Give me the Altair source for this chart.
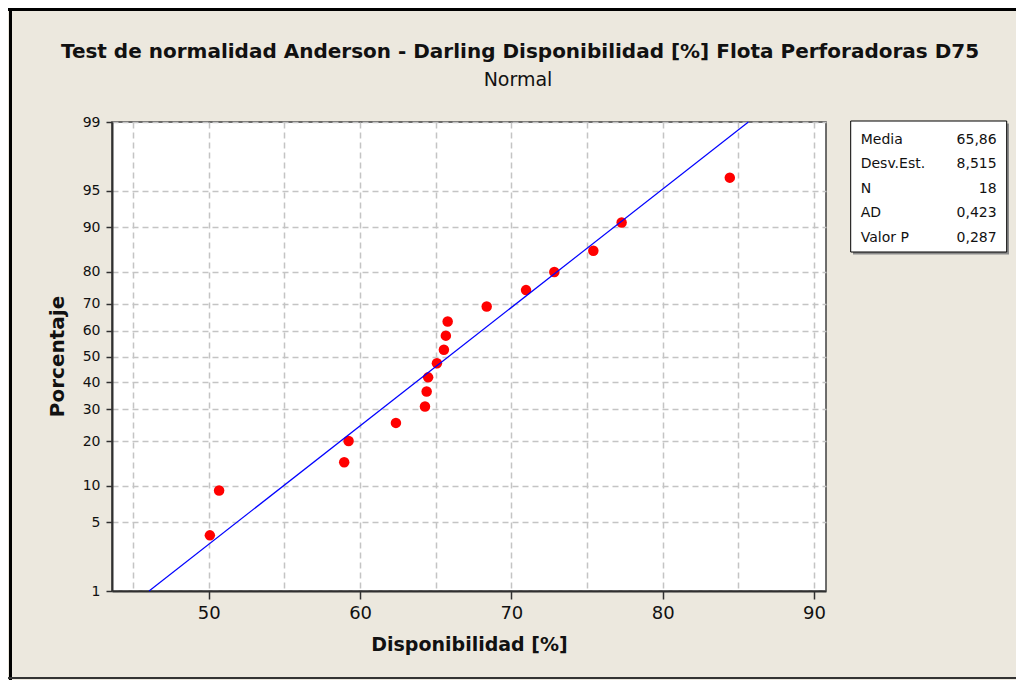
import altair as alt
import pandas as pd
from statistics import NormalDist

# ---- data ----
disponibilidad = [50.07, 50.68, 58.95, 59.24, 62.37, 64.29, 64.40, 64.50, 65.08,
                  65.54, 65.67, 65.79, 68.37, 70.97, 72.84, 75.42, 77.29, 84.44]
porcentaje = [3.8, 9.2, 14.7, 20.1, 25.5, 31.0, 36.4, 41.8, 47.3,
              52.7, 58.2, 63.6, 69.0, 74.5, 79.9, 85.3, 90.8, 96.2]
fit_x = [46.05, 85.67]
fit_pct = [1, 99]
pct_ticks = [1, 5, 10, 20, 30, 40, 50, 60, 70, 80, 90, 95, 99]
x_ticks = [45, 50, 55, 60, 65, 70, 75, 80, 85, 90]
stat_names = ["Media", "Desv.Est.", "N", "AD", "Valor P"]
stat_values = ["65,86", "8,515", "18", "0,423", "0,287"]
title_text = ["Test de normalidad Anderson - Darling Disponibilidad [%] Flota Perforadoras D75"]
subtitle_text = ["Normal"]

FONT = "DejaVu Sans"
BG = "#ECE8DE"

nd = NormalDist()
z_ticks = [nd.inv_cdf(p / 100) for p in pct_ticks]
z_dom = [z_ticks[0] - 1e-9, z_ticks[-1] + 1e-9]

pts = pd.DataFrame({"x": disponibilidad, "pct": porcentaje})
fit = pd.DataFrame({"x": fit_x, "pct": fit_pct})
one = pd.DataFrame({"a": [0]})
stats = pd.DataFrame({"names": ["\n".join(stat_names)], "vals": ["\n".join(stat_values)]})
ttl = pd.DataFrame({"t": title_text})
sub = pd.DataFrame({"t": subtitle_text})

xscale = alt.Scale(domain=[43.6, 90.8], nice=False, zero=False)
yscale = alt.Scale(domain=z_dom, nice=False, zero=False)

x_axis = alt.Axis(
    values=x_ticks, tickCount=30,
    labelExpr="datum.value % 10 == 0 ? datum.label : ''",
    tickOpacity={"condition": {"test": "datum.value % 10 != 0", "value": 0}, "value": 1},
    tickSize=8, tickWidth=1.5, tickColor="#303030",
    labelFontSize=18, labelPadding=5, labelColor="#111111", labelFont=FONT,
    labelOverlap=False,
    grid=True, gridDash=[6, 4], gridColor="#c4c4c4", gridWidth=1.5,
    domainColor="#303030", domainWidth=2,
    title="Disponibilidad [%]", titleFontSize=19, titleFontWeight="bold",
    titleFont=FONT, titleColor="#111111", titlePadding=13,
)
y_axis = alt.Axis(
    values=z_ticks, tickCount=30,
    labelExpr="format(cumulativeNormal(datum.value) * 100, '.0f')",
    tickSize=6, tickWidth=1.5, tickColor="#303030",
    labelFontSize=14, labelPadding=6, labelColor="#111111", labelFont=FONT,
    labelOverlap=False,
    grid=True, gridDash=[6, 4], gridColor="#c4c4c4", gridWidth=1.5,
    domainColor="#303030", domainWidth=2,
    title="Porcentaje", titleFontSize=20, titleFontWeight="bold",
    titleFont=FONT, titleColor="#111111",
    titleX=-55, titleY=234, titleAngle=270, titleAlign="center", titleBaseline="middle",
)

points = alt.Chart(pts).transform_calculate(
    z="quantileNormal(datum.pct / 100)"
).mark_circle(size=110, color="#FF0000", opacity=1).encode(
    x=alt.X("x:Q", scale=xscale, axis=x_axis),
    y=alt.Y("z:Q", scale=yscale, axis=y_axis),
)

line = alt.Chart(fit).transform_calculate(
    z="quantileNormal(datum.pct / 100)"
).mark_line(color="#0000FF", strokeWidth=1.2).encode(
    x=alt.X("x:Q", scale=xscale),
    y=alt.Y("z:Q", scale=yscale),
)

shadow = alt.Chart(one).mark_rect(fill="#8a8a8a").encode(
    x=alt.value(741), x2=alt.value(897), y=alt.value(1.5), y2=alt.value(132.5)
)
box = alt.Chart(one).mark_rect(fill="white", stroke="#000000", strokeWidth=1).encode(
    x=alt.value(738.7), x2=alt.value(894.7), y=alt.value(-1), y2=alt.value(130)
)
names = alt.Chart(stats).mark_text(
    align="left", baseline="middle", lineBreak="\n", lineHeight=24.4,
    font=FONT, fontSize=14, color="#111111"
).encode(x=alt.value(748.7), y=alt.value(18), text="names:N")
vals = alt.Chart(stats).mark_text(
    align="right", baseline="middle", lineBreak="\n", lineHeight=24.4,
    font=FONT, fontSize=14, color="#111111"
).encode(x=alt.value(884.7), y=alt.value(18), text="vals:N")

title_mark = alt.Chart(ttl).mark_text(
    align="center", baseline="middle", font=FONT, fontSize=20, fontWeight="bold",
    color="#111111"
).encode(x=alt.value(408), y=alt.value(-70), text="t:N")
subtitle_mark = alt.Chart(sub).mark_text(
    align="center", baseline="middle", font=FONT, fontSize=19, color="#111111"
).encode(x=alt.value(406), y=alt.value(-42), text="t:N")

top_border = alt.Chart(one).mark_rule(color="#000000", strokeWidth=3).encode(
    x=alt.value(-104), x2=alt.value(904), y=alt.value(-112.5)
)
left_border = alt.Chart(one).mark_rule(color="#000000", strokeWidth=3).encode(
    x=alt.value(-101.5), y=alt.value(-114), y2=alt.value(558)
)
bottom_border = alt.Chart(one).mark_rule(color="#333333", strokeWidth=2).encode(
    x=alt.value(-104), x2=alt.value(904), y=alt.value(556)
)

chart = alt.layer(
    points, line, shadow, box, names, vals, title_mark, subtitle_mark,
    top_border, left_border, bottom_border
).properties(
    width=714, height=469,
    padding={"left": 104, "top": 114, "right": 190, "bottom": 89},
    autosize=alt.AutoSizeParams(type="none"),
    background=BG,
).configure_view(
    fill="white", stroke="#404040", strokeWidth=1.5
)

chart.save("out.html", embed_options={"renderer": "svg", "actions": False})
